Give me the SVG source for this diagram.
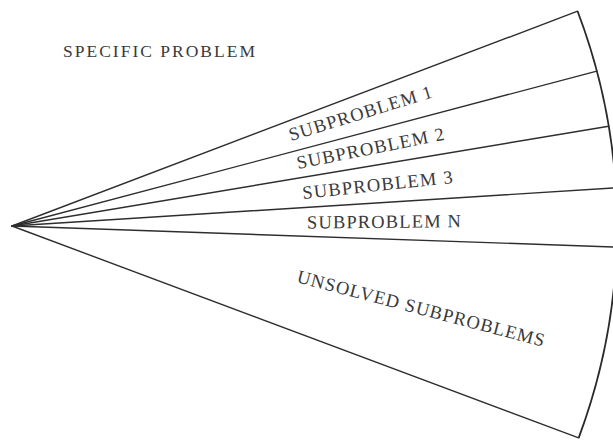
<svg xmlns="http://www.w3.org/2000/svg" width="613" height="441" viewBox="0 0 613 441">
<style>
.ray{stroke:#2e2e2e;stroke-width:1.4;fill:none;stroke-linecap:round}
.arc{stroke:#2a2a2a;stroke-width:1.8;fill:none}
.lbl{font-family:"Liberation Serif","DejaVu Serif",serif;font-size:18.5px;fill:#3a3a3a}
</style>
<rect width="613" height="441" fill="#ffffff"/>
<g id="connectors">
<line class="ray" x1="12" y1="226" x2="577.6" y2="11.2"/>
<line class="ray" x1="12" y1="226" x2="596.8" y2="71.1"/>
<line class="ray" x1="12" y1="226" x2="608.7" y2="126.2"/>
<line class="ray" x1="12" y1="226" x2="615.8" y2="187.8"/>
<line class="ray" x1="12" y1="226" x2="616.6" y2="247.1"/>
<line class="ray" x1="12" y1="226" x2="578.7" y2="437.9"/>
<path class="arc" d="M 577.6 11.2 A 605 605 0 0 1 578.7 437.9"/>
</g>
<g id="specific-problem">
<text class="lbl" x="63" y="57" textLength="192" lengthAdjust="spacing" style="font-size:17.5px">SPECIFIC PROBLEM</text>
</g>
<g id="subproblem-1">
<text class="lbl" x="291" y="141" textLength="149" lengthAdjust="spacing" transform="rotate(-17.1 291 141)">SUBPROBLEM 1</text>
</g>
<g id="subproblem-2">
<text class="lbl" x="298" y="169" textLength="150" lengthAdjust="spacing" transform="rotate(-11.3 298 169)">SUBPROBLEM 2</text>
</g>
<g id="subproblem-3">
<text class="lbl" x="303" y="199" textLength="151" lengthAdjust="spacing" transform="rotate(-6.1 303 199)">SUBPROBLEM 3</text>
</g>
<g id="subproblem-n">
<text class="lbl" x="307" y="228.5" textLength="154" lengthAdjust="spacing" transform="rotate(-0.5 307 228.5)">SUBPROBLEM N</text>
</g>
<g id="unsolved-subproblems">
<text class="lbl" x="296" y="282" textLength="255" lengthAdjust="spacing" transform="rotate(14.7 296 282)">UNSOLVED SUBPROBLEMS</text>
</g>
</svg>
